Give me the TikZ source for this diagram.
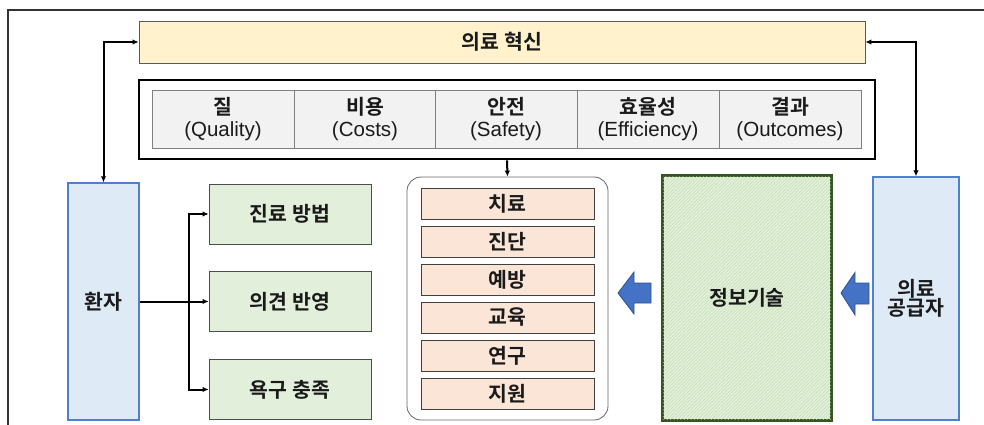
\documentclass[tikz,border=0pt]{standalone}
\usepackage{fontspec}
\setmainfont{Liberation Sans}
\newfontfamily\krb{Noto Sans CJK KR Bold}
\usetikzlibrary{arrows.meta,patterns.meta}
\definecolor{banfill}{HTML}{FFF2CC}
\definecolor{cellfill}{HTML}{F2F2F2}
\definecolor{bluefill}{HTML}{DEEBF7}
\definecolor{blueline}{HTML}{4F7FD0}
\definecolor{grnfill}{HTML}{E2EFDA}
\definecolor{peach}{HTML}{FBE5D6}
\definecolor{itline}{HTML}{375623}
\definecolor{hatch}{HTML}{BDD9A8}
\definecolor{arrfill}{HTML}{4472C4}
\definecolor{arrline}{HTML}{2F528F}
\definecolor{txt}{HTML}{1A1A1A}
\tikzset{
  box/.style={draw, rectangle, inner sep=0pt, text=txt, font=\krb\fontsize{20.5}{24}\selectfont, align=center},
  banner/.style={box, fill=banfill, draw=black!65, line width=0.8pt},
  cell/.style={box, fill=cellfill, draw=black!50, line width=0.8pt, minimum width=142pt, minimum height=58pt},
  actor/.style={box, fill=bluefill, draw=blueline, line width=1.3pt},
  grn/.style={box, fill=grnfill, draw=black!70, line width=0.8pt, minimum width=162pt, minimum height=60pt},
  item/.style={box, fill=peach, draw=black!75, line width=0.8pt, minimum width=173pt, minimum height=31pt},
  conn/.style={line width=2pt, -{Latex[length=6pt,width=5.5pt]}},
  biconn/.style={line width=2pt, {Latex[length=6pt,width=5.5pt]}-{Latex[length=6pt,width=5.5pt]}},
  blockarr/.style={fill=arrfill, draw=arrline, line width=0.8pt},
}
\newcommand{\cellt}[2]{{\krb #1}\\[-2pt]{\normalfont\fontsize{20.5}{24}\selectfont #2}}
\begin{document}
\begin{tikzpicture}[x=1pt,y=-1pt]
\useasboundingbox (0,0) rectangle (984,425);
% outer frame (partial)
\draw[line width=1.8pt, draw=black!80] (8,425) -- (8,10) -- (984,10);

\node[banner, minimum width=726pt, minimum height=42pt] (ban) at (502,42) {의료 혁신};
\node[draw, line width=2.6pt, minimum width=736pt, minimum height=79pt, inner sep=0pt] (outer) at (507,119.5) {};

\node[cell] (c1) at (223,119) {\cellt{질}{(Quality)}};
\node[cell] (c2) at (365,119) {\cellt{비용}{(Costs)}};
\node[cell] (c3) at (506,119) {\cellt{안전}{(Safety)}};
\node[cell] (c4) at (648,119) {\cellt{효율성}{(Efficiency)}};
\node[cell] (c5) at (790,119) {\cellt{결과}{(Outcomes)}};

\node[actor, minimum width=71pt, minimum height=237pt] (hwan) at (103.5,301.5) {환자};
\node[actor, minimum width=86pt, minimum height=243pt] (prov) at (916,298.5) {의료\\[-5pt]공급자};

\node[grn] (g1) at (290,214) {진료 방법};
\node[grn] (g2) at (290,301.5) {의견 반영};
\node[grn] (g3) at (290,389.5) {욕구 충족};

\node[draw=black!60, line width=0.8pt, rounded corners=14pt, minimum width=201pt, minimum height=243pt, inner sep=0pt, fill=white] (rbox) at (507.5,298.5) {};
\node[item] (i1) at (507.5,203.5) {치료};
\node[item] (i2) at (507.5,241.5) {진단};
\node[item] (i3) at (507.5,279.5) {예방};
\node[item] (i4) at (507.5,317.5) {교육};
\node[item] (i5) at (507.5,355.5) {연구};
\node[item] (i6) at (507.5,393.5) {지원};

\node[box, draw=itline, line width=1.8pt, fill=grnfill, minimum width=168pt, minimum height=244pt] (it) at (747,298) {};
\fill[pattern={Lines[angle=45,distance=2.4pt,line width=0.35pt]}, pattern color=hatch]
  ([shift={(1pt,-1pt)}]it.south west) rectangle ([shift={(-1pt,1pt)}]it.north east);
\draw[draw=itline, line width=1.8pt] (it.south west) rectangle (it.north east);
\node[text=txt, font=\krb\fontsize{20.5}{24}\selectfont] (itl) at (it.center) {정보기술};

% connectors
\draw[biconn] (hwan.north) |- (ban.west);
\draw[biconn] (prov.north) |- (ban.east);
\draw[conn] (outer.south) -- (rbox.north);
\coordinate (br) at (189,301.5);
\draw[line width=2pt] (hwan.east) -- (br);
\draw[conn] (br) -- (g2.west);
\draw[conn] (br) |- (g1.west);
\draw[conn] (br) |- (g3.west);

% block arrows
\draw[blockarr] (618,293) -- (634,272) -- (634,283) -- (651,283) -- (651,303) -- (634,303) -- (634,314) -- cycle;
\draw[blockarr] (841,293) -- (855,272.5) -- (855,283) -- (869,283) -- (869,304) -- (855,304) -- (855,315) -- cycle;
\end{tikzpicture}
\end{document}
